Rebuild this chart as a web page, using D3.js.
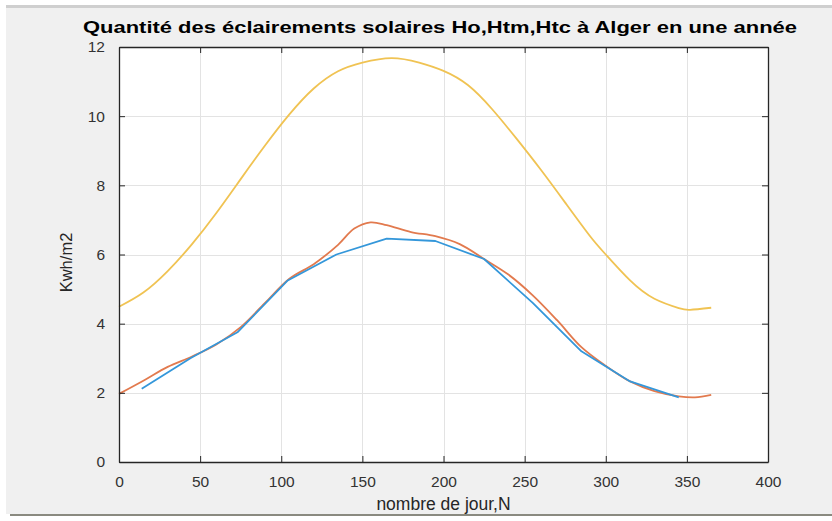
<!DOCTYPE html>
<html>
<head>
<meta charset="utf-8">
<script src="https://cdn.jsdelivr.net/npm/d3@7"></script>
<style>
  html, body { margin: 0; padding: 0; background: #ffffff; }
  svg { display: block; }
  text { font-family: "Liberation Sans", Arial, Helvetica, sans-serif; }
</style>
</head>
<body>
<svg id="chart" width="832" height="521"></svg>
<script>
// Daily solar irradiation in Algiers over one year (kWh/m2)
const titleText = "Quantité des éclairements solaires Ho,Htm,Htc à Alger en une année";
const xLabel = "nombre de jour,N";
const yLabel = "Kwh/m2";
const xTicks = [0, 50, 100, 150, 200, 250, 300, 350, 400];
const yTicks = [0, 2, 4, 6, 8, 10, 12];

// Ho: extraterrestrial irradiation
const hoDays   = [0, 15, 30, 45, 60, 75, 90, 105, 120, 135, 150, 168, 185, 200, 215, 230, 245, 260, 275, 290, 300, 315, 330, 345, 352, 365];
const hoValues = [4.49, 4.9, 5.52, 6.3, 7.2, 8.18, 9.15, 10.05, 10.8, 11.3, 11.55, 11.68, 11.55, 11.31, 10.9, 10.2, 9.35, 8.45, 7.5, 6.55, 6.0, 5.25, 4.72, 4.45, 4.4, 4.46];

// Htm: measured monthly means
const htmDays   = [14, 44, 73, 104, 134, 165, 195, 225, 255, 285, 315, 345];
const htmValues = [2.12, 3.0, 3.75, 5.25, 6.0, 6.46, 6.39, 5.87, 4.6, 3.2, 2.33, 1.87];

// Htc: computed irradiation
const htcDays   = [0, 15, 30, 45, 60, 75, 90, 105, 120, 135, 145, 155, 165, 180, 195, 210, 225, 240, 255, 270, 285, 300, 315, 330, 345, 355, 365];
const htcValues = [1.97, 2.35, 2.75, 3.05, 3.4, 3.9, 4.6, 5.3, 5.72, 6.28, 6.75, 6.93, 6.85, 6.65, 6.53, 6.3, 5.87, 5.42, 4.82, 4.1, 3.32, 2.78, 2.33, 2.05, 1.9, 1.87, 1.94];

const colors = { ho: "#f0c353", htm: "#3497da", htc: "#e27a4e" };

const svg = d3.select("#chart");
const W = 832, H = 521;
const plot = { left: 119, right: 768, top: 47, bottom: 462 };

// figure window background
svg.append("rect").attr("x", 6).attr("y", 8).attr("width", W - 6).attr("height", 506).attr("fill", "#f0f0f0");
svg.append("rect").attr("x", 6).attr("y", 5).attr("width", W - 6).attr("height", 3).attr("fill", "#cfcfcf");
svg.append("rect").attr("x", 10).attr("y", 514).attr("width", W - 10).attr("height", 2).attr("fill", "#8a8a80");

const x = d3.scaleLinear().domain([0, 400]).range([plot.left, plot.right]);
const y = d3.scaleLinear().domain([0, 12]).range([plot.bottom, plot.top]);

// axes area
svg.append("rect")
  .attr("x", plot.left).attr("y", plot.top)
  .attr("width", plot.right - plot.left).attr("height", plot.bottom - plot.top)
  .attr("fill", "#ffffff");

// grid
const grid = svg.append("g").attr("stroke", "#e3e3e3").attr("stroke-width", 1);
grid.selectAll(".gx").data(xTicks.slice(1, -1)).join("line")
  .attr("x1", d => Math.round(x(d)) + 0.5).attr("x2", d => Math.round(x(d)) + 0.5)
  .attr("y1", plot.top).attr("y2", plot.bottom);
grid.selectAll(".gy").data(yTicks.slice(1, -1)).join("line")
  .attr("y1", d => Math.round(y(d)) + 0.5).attr("y2", d => Math.round(y(d)) + 0.5)
  .attr("x1", plot.left).attr("x2", plot.right);

// curves
const series = [
  { days: hoDays, values: hoValues, color: colors.ho, curve: d3.curveNatural },
  { days: htcDays, values: htcValues, color: colors.htc, curve: d3.curveCatmullRom.alpha(0.5) },
  { days: htmDays, values: htmValues, color: colors.htm, curve: d3.curveLinear }
];
series.forEach(s => {
  const pts = s.days.map((d, i) => [d, s.values[i]]);
  const line = d3.line().x(d => x(d[0])).y(d => y(d[1])).curve(s.curve);
  svg.append("path").datum(pts)
    .attr("d", line)
    .attr("fill", "none")
    .attr("stroke", s.color)
    .attr("stroke-width", 1.8)
    .attr("stroke-linejoin", "round");
});

// axes with inward ticks on all four sides
const axisColor = "#262626";
const tickLen = 6;
const axB = svg.append("g").attr("transform", `translate(0,${plot.bottom})`)
  .call(d3.axisBottom(x).tickValues(xTicks).tickSizeInner(-tickLen).tickSizeOuter(0).tickPadding(14));
const axT = svg.append("g").attr("transform", `translate(0,${plot.top})`)
  .call(d3.axisTop(x).tickValues(xTicks).tickSizeInner(-tickLen).tickSizeOuter(0).tickFormat(""));
const axL = svg.append("g").attr("transform", `translate(${plot.left},0)`)
  .call(d3.axisLeft(y).tickValues(yTicks).tickSizeInner(-tickLen).tickSizeOuter(0).tickPadding(14));
const axR = svg.append("g").attr("transform", `translate(${plot.right},0)`)
  .call(d3.axisRight(y).tickValues(yTicks).tickSizeInner(-tickLen).tickSizeOuter(0).tickFormat(""));

[axB, axT, axL, axR].forEach(g => {
  g.select(".domain").attr("stroke", axisColor).attr("stroke-width", 1.3);
  g.selectAll(".tick line").attr("stroke", axisColor).attr("stroke-width", 1);
  g.selectAll(".tick text").attr("fill", "#333333").style("font-size", "15.5px")
    .style("font-family", '"Liberation Sans", Arial, sans-serif');
});

// axis labels and title
svg.append("text")
  .attr("x", (plot.left + plot.right) / 2).attr("y", 510)
  .attr("text-anchor", "middle").attr("fill", "#262626")
  .style("font-size", "17.5px").text(xLabel);

svg.append("text")
  .attr("transform", `translate(72,${(plot.top + plot.bottom) / 2 + 8}) rotate(-90)`)
  .attr("text-anchor", "middle").attr("fill", "#262626")
  .style("font-size", "16.5px").text(yLabel);

svg.append("text")
  .attr("x", 83).attr("y", 33)
  .attr("textLength", 714).attr("lengthAdjust", "spacingAndGlyphs")
  .attr("fill", "#000000")
  .style("font-size", "17px").style("font-weight", "bold")
  .text(titleText);
</script>
</body>
</html>
